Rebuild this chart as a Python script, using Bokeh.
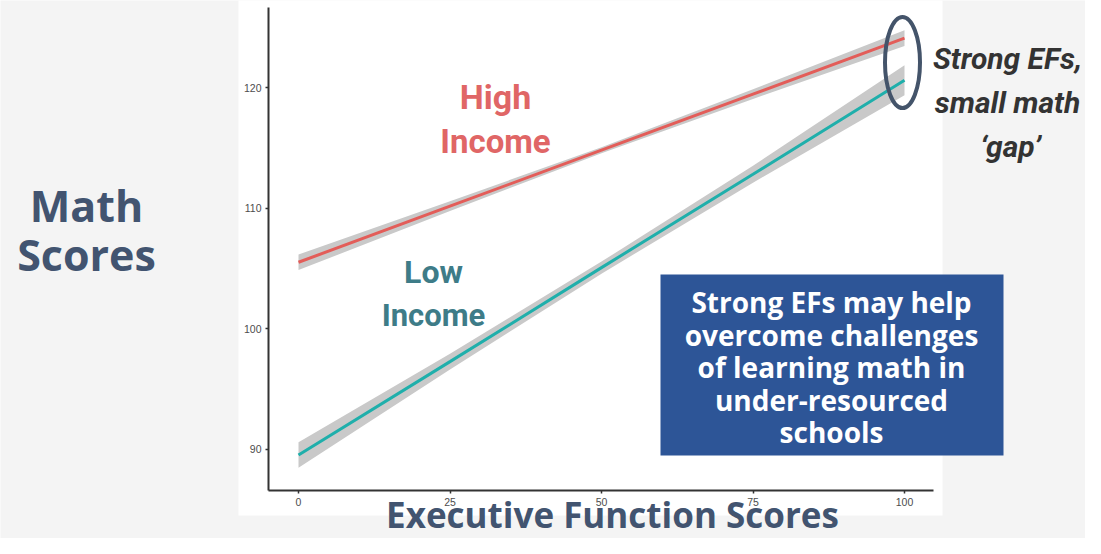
from bokeh.plotting import figure
from bokeh.models import Range1d, FixedTicker
from bokeh.embed import file_html
from bokeh.resources import INLINE
from bokeh.core.properties import value

# ---- data ----
ef_scores = [0, 25, 50, 75, 100]
high_fit = [105.5, 110.15, 114.8, 119.45, 124.1]
high_lower = [104.85, 109.75, 114.55, 119.05, 123.45]
high_upper = [106.15, 110.55, 115.05, 119.85, 124.75]
low_fit = [89.5, 97.25, 105.05, 112.8, 120.6]
low_lower = [88.45, 96.6, 104.55, 112.1, 119.35]
low_upper = [90.55, 97.9, 105.55, 113.5, 121.85]
x_ticks = [0, 25, 50, 75, 100]
y_ticks = [90, 100, 110, 120]

# ---- pixel -> data helpers (layout only) ----
X0_PX, X_SCALE = 298.0, 6.06
Y120_PX, Y_SCALE = 87.0, 12.05


def dx(px):
    return (px - X0_PX) / X_SCALE


def dy(py):
    return 120 - (py - Y120_PX) / Y_SCALE


W, H = 1085, 538
p = figure(width=W, height=H, output_backend="svg", toolbar_location=None,
           x_range=Range1d(dx(0), dx(W)), y_range=Range1d(dy(H), dy(0)),
           min_border=0, min_border_left=0, min_border_right=0,
           min_border_top=0, min_border_bottom=0)
p.xgrid.visible = False
p.ygrid.visible = False
p.outline_line_color = None
p.background_fill_color = "#F4F4F4"
p.border_fill_color = "#F4F4F4"

# white chart panel
p.quad(left=dx(238), right=dx(942), top=dy(-5), bottom=dy(515),
       fill_color="white", line_color=None)

# confidence bands
p.varea(x=ef_scores, y1=high_lower, y2=high_upper, fill_color="#C9C9C9")
p.varea(x=ef_scores, y1=low_lower, y2=low_upper, fill_color="#C9C9C9")
# fit lines
p.line(ef_scores, high_fit, line_color="#E35D59", line_width=3)
p.line(ef_scores, low_fit, line_color="#1FAFAB", line_width=3)

# axes
ax_x = p.xaxis[0]
ax_y = p.yaxis[0]
ax_x.fixed_location = dy(490)
ax_y.fixed_location = dx(268)
ax_x.bounds = (dx(268), dx(933))
ax_y.bounds = (dy(490), dy(7))
ax_x.ticker = FixedTicker(ticks=x_ticks, minor_ticks=[])
ax_y.ticker = FixedTicker(ticks=y_ticks, minor_ticks=[])
for ax in (ax_x, ax_y):
    ax.axis_line_color = "#333333"
    ax.axis_line_width = 2
    ax.major_tick_line_color = "#333333"
    ax.major_tick_line_width = 1.5
    ax.major_tick_out = 3
    ax.major_tick_in = 0
    ax.minor_tick_out = 0
    ax.minor_tick_in = 0
    ax.major_label_text_font = "Liberation Sans"
    ax.major_label_text_font_size = "10.5px"
    ax.major_label_text_color = "#4D4D4D"
    ax.major_label_standoff = 4

# highlight ellipse
p.ellipse(x=dx(902), y=dy(62), width=35 / X_SCALE, height=91 / Y_SCALE,
          fill_color=None, line_color="#44546A", line_width=4)

# blue box
p.quad(left=dx(660), right=dx(1003), top=dy(274), bottom=dy(455),
       fill_color="#2D5597", line_color=None)


def txt(s, xpx, ybase, size, color, font, style="bold", align="center"):
    # empirical correction: svg text baseline lands ~0.37em lower than requested
    yb = ybase - 0.37 * size
    p.text(x=[dx(xpx)], y=[dy(yb)], text=[s], text_align=align,
           text_baseline="alphabetic", text_font=value(font),
           text_font_size=f"{size}px", text_font_style=style, text_color=color)


slate = "#425470"
txt("Math", 86, 221, 43, slate, "Open Sans")
txt("Scores", 86, 270, 43, slate, "Open Sans")
txt("Executive Function Scores", 612, 527, 35, slate, "Open Sans")

txt("High", 495, 109, 34, "#E06666", "Roboto")
txt("Income", 495, 153, 33, "#E06666", "Roboto")
txt("Low", 433, 283, 32, "#3E7C88", "Roboto")
txt("Income", 433, 326, 31, "#3E7C88", "Roboto")

dark = "#333333"
txt("Strong EFs,", 1007, 69, 30, dark, "Roboto", "bold italic")
txt("small math", 1007, 113, 30, dark, "Roboto", "bold italic")
txt("\u2018gap\u2019", 1010, 157, 30, dark, "Roboto", "bold italic")

box_lines = ["Strong EFs may help", "overcome challenges", "of learning math in",
             "under-resourced", "schools"]
for i, s in enumerate(box_lines):
    txt(s, 831, 312 + i * 32.5, 28, "white", "Open Sans")

open("out.html", "w").write(file_html(p, INLINE))
